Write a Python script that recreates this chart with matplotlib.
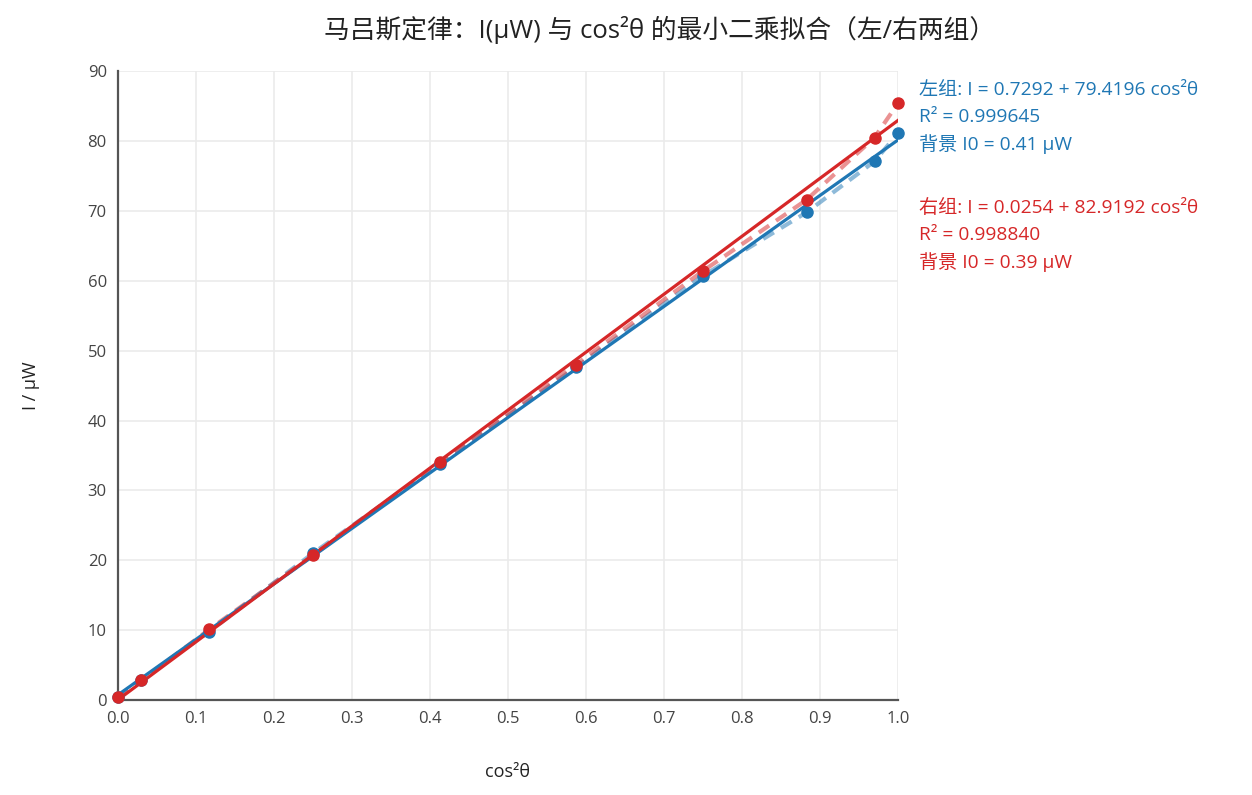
import numpy as np
import matplotlib
matplotlib.use("Agg")
import matplotlib.pyplot as plt

plt.rcParams['font.family'] = ['Open Sans', 'Noto Sans CJK SC', 'DejaVu Sans']

# cos^2(theta) for theta = 90, 80, ..., 0 degrees
cos2 = [0.0, 0.0302, 0.117, 0.25, 0.413, 0.587, 0.75, 0.883, 0.970, 1.0]
left_I = [0.41, 2.9, 9.8, 21.0, 33.8, 47.6, 60.7, 69.8, 77.1, 81.1]
right_I = [0.39, 2.8, 10.1, 20.7, 34.0, 48.0, 61.4, 71.6, 80.5, 85.4]

# fit results (intercept, slope)
left_fit = (0.7292, 79.4196)
right_fit = (0.0254, 82.9192)

left_lines = ["左组: I = 0.7292 + 79.4196 cos²θ", "R² = 0.999645", "背景 I0 = 0.41 μW"]
right_lines = ["右组: I = 0.0254 + 82.9192 cos²θ", "R² = 0.998840", "背景 I0 = 0.39 μW"]

blue = "#1f77b4"
red = "#d62728"

fig = plt.figure(figsize=(12.52, 7.95), dpi=100)
ax = fig.add_axes([0.0942, 0.1195, 0.623, 0.791])

xfit = np.array([0.0, 1.0])
for ys, fit, c in [(left_I, left_fit, blue), (right_I, right_fit, red)]:
    ax.plot(cos2, ys, color=c, lw=3, ls=(0, (3, 2)), alpha=0.5, zorder=2)
    ax.plot(xfit, fit[0] + fit[1] * xfit, color=c, lw=2.3, zorder=3)
    ax.plot(cos2, ys, 'o', color=c, ms=8, zorder=4, clip_on=False)

ax.set_xlim(0, 1)
ax.set_ylim(0, 90)
ax.set_xticks(np.arange(0, 1.01, 0.1))
ax.set_xticklabels([f"{v:.1f}" for v in np.arange(0, 1.01, 0.1)])
ax.set_yticks(np.arange(0, 91, 10))
ax.grid(True, color="#ebebeb", lw=1.2)
ax.set_axisbelow(True)
for s in ["top", "right"]:
    ax.spines[s].set_visible(False)
for s in ["left", "bottom"]:
    ax.spines[s].set_color("#555555")
    ax.spines[s].set_linewidth(1.6)
ax.tick_params(length=0, labelsize=12, colors="#444444", pad=8)

ax.set_xlabel("cos²θ", fontsize=13, color="#222222")
ax.xaxis.set_label_coords(0.5, -0.1)
ax.set_ylabel("I / μW", fontsize=13, color="#222222")
ax.yaxis.set_label_coords(-0.1, 0.5)

fig.text(0.527, 0.962, "马吕斯定律：I(μW) 与 cos²θ 的最小二乘拟合（左/右两组）",
         ha="center", va="center", fontsize=18.5, color="#222222")

# annotation lines, 27 px apart
H = 795.0
for lines, y0, c in [(left_lines, 90, blue), (right_lines, 208, red)]:
    for i, s in enumerate(lines):
        fig.text(0.734, 1 - (y0 + 27 * i) / H, s, ha="left", va="center",
                 fontsize=13.8, color=c)

fig.savefig("out.png", dpi=100)
